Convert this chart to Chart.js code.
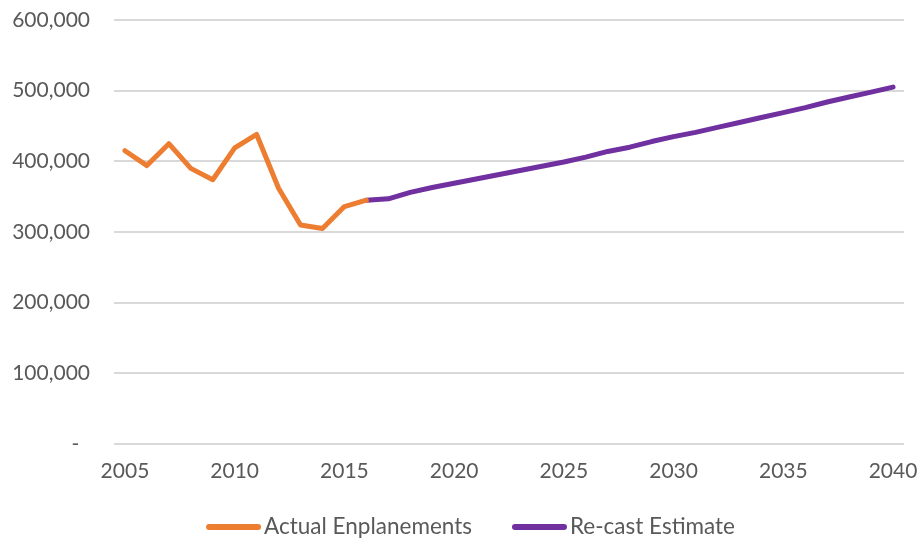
<!DOCTYPE html>
<html>
<head>
<meta charset="utf-8">
<script src="https://cdn.jsdelivr.net/npm/chart.js@4/dist/chart.umd.min.js"></script>
<style>
  html, body { margin: 0; padding: 0; background: #ffffff; }
  #wrap { width: 919px; height: 544px; position: relative; }
</style>
</head>
<body>
<div id="wrap"><canvas id="c"></canvas></div>
<script>
// Categories (years)
const years = [2005, 2006, 2007, 2008, 2009, 2010, 2011, 2012, 2013, 2014, 2015, 2016,
               2017, 2018, 2019, 2020, 2021, 2022, 2023, 2024, 2025, 2026, 2027, 2028,
               2029, 2030, 2031, 2032, 2033, 2034, 2035, 2036, 2037, 2038, 2039, 2040];

// Actual Enplanements, 2005-2016
const actualYears = [2005, 2006, 2007, 2008, 2009, 2010, 2011, 2012, 2013, 2014, 2015, 2016];
const actualValues = [415000, 394000, 425000, 390000, 374000, 419000, 438000, 362000, 310000, 305000, 336000, 345000];

// Re-cast Estimate, 2016-2040
const estimateYears = [2016, 2017, 2018, 2019, 2020, 2021, 2022, 2023, 2024, 2025, 2026, 2027, 2028,
                       2029, 2030, 2031, 2032, 2033, 2034, 2035, 2036, 2037, 2038, 2039, 2040];
const estimateValues = [345000, 347000, 356000, 363000, 369000, 375000, 381000, 387000, 393000, 399000,
                        406000, 414000, 420000, 428000, 435000, 441000, 448000, 455000, 462000, 469000,
                        476000, 484000, 491000, 498000, 505000];

// Axis ticks
const xTickLabels = [2005, 2010, 2015, 2020, 2025, 2030, 2035, 2040];
const yTickValues = [0, 100000, 200000, 300000, 400000, 500000, 600000];

const seriesNames = ['Actual Enplanements', 'Re-cast Estimate'];
const seriesColors = ['#ED7D31', '#7030A0'];

function align(srcYears, srcValues) {
  return years.map(y => {
    const i = srcYears.indexOf(y);
    return i >= 0 ? srcValues[i] : null;
  });
}

const FONT = "Lato, 'Open Sans', sans-serif";
const TEXT = '#595959';

const legendPlugin = {
  id: 'excelLegend',
  afterDraw(chart) {
    const ctx = chart.ctx;
    ctx.save();
    ctx.font = '22.5px ' + FONT;
    ctx.textBaseline = 'middle';
    ctx.textAlign = 'left';
    const sw = 55, gapText = 3, gapItem = 40;
    const widths = seriesNames.map(n => ctx.measureText(n).width);
    let total = 0;
    widths.forEach((w, i) => { total += sw + gapText + w + (i < widths.length - 1 ? gapItem : 0); });
    let x = 470.5 - total / 2;
    const y = 527;
    seriesNames.forEach((n, i) => {
      ctx.strokeStyle = seriesColors[i];
      ctx.lineWidth = 6;
      ctx.lineCap = 'round';
      ctx.beginPath();
      ctx.moveTo(x + 3, y);
      ctx.lineTo(x + sw - 3, y);
      ctx.stroke();
      ctx.fillStyle = TEXT;
      ctx.fillText(n, x + sw + gapText, y);
      x += sw + gapText + widths[i] + gapItem;
    });
    ctx.restore();
  }
};

new Chart(document.getElementById('c'), {
  type: 'line',
  data: {
    labels: years,
    datasets: [
      {
        label: seriesNames[0],
        data: align(actualYears, actualValues),
        borderColor: seriesColors[0],
        backgroundColor: seriesColors[0],
        borderWidth: 5,
        pointRadius: 0,
        tension: 0,
        borderCapStyle: 'round',
        borderJoinStyle: 'round',
        spanGaps: false
      },
      {
        label: seriesNames[1],
        data: align(estimateYears, estimateValues),
        borderColor: seriesColors[1],
        backgroundColor: seriesColors[1],
        borderWidth: 5,
        pointRadius: 0,
        tension: 0,
        borderCapStyle: 'round',
        borderJoinStyle: 'round',
        spanGaps: false
      }
    ]
  },
  options: {
    responsive: true,
    maintainAspectRatio: false,
    animation: false,
    layout: { padding: { top: 20, left: 12, right: 15, bottom: 59 } },
    plugins: {
      legend: { display: false },
      tooltip: { enabled: false }
    },
    scales: {
      x: {
        type: 'category',
        offset: true,
        grid: { display: false, drawTicks: false },
        border: { display: false },
        afterFit: function (axis) { axis.paddingLeft = 0; axis.paddingRight = 0; axis.height = 41; },
        ticks: {
          autoSkip: false,
          maxRotation: 0,
          padding: 15,
          color: TEXT,
          font: { family: FONT, size: 21 },
          callback: function (value, index) {
            const lab = years[index];
            return xTickLabels.includes(lab) ? String(lab) : '';
          }
        }
      },
      y: {
        min: 0,
        max: 600000,
        grid: { color: '#d9d9d9', lineWidth: 2, drawTicks: false },
        border: { display: false },
        afterFit: function (axis) { axis.paddingTop = 0; axis.paddingBottom = 0; axis.width = 102; },
        afterBuildTicks: function (axis) {
          axis.ticks = yTickValues.map(v => ({ value: v }));
        },
        ticks: {
          padding: 24,
          color: TEXT,
          font: { family: FONT, size: 21 },
          callback: function (v) {
            return v === 0 ? '-  ' : v.toLocaleString('en-US');
          }
        }
      }
    }
  },
  plugins: [legendPlugin]
});
</script>
</body>
</html>
